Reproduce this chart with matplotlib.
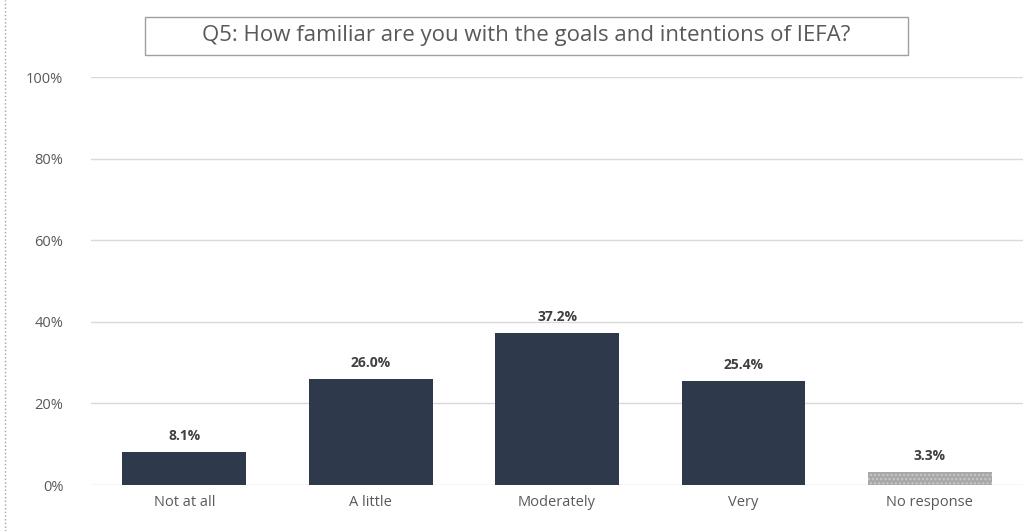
import matplotlib.pyplot as plt
import matplotlib.patches as mpatches
import matplotlib.lines as mlines
from matplotlib.ticker import FuncFormatter

# Datos
categorias = ["Not at all", "A little", "Moderately", "Very", "No response"]
valores = [8.1, 26.0, 37.2, 25.4, 3.3]
colores = ["#2e3a4b", "#2e3a4b", "#2e3a4b", "#2e3a4b", "#a8a8a8"]
titulo = "Q5: How familiar are you with the goals and intentions of IEFA?"

plt.rcParams['font.family'] = ['Open Sans', 'DejaVu Sans']

fig = plt.figure(figsize=(10.35, 5.31), dpi=100)
ax = fig.add_axes([0.088, 0.0866, 0.9005, 0.768])

x = range(len(categorias))
barras = ax.bar(x, valores, width=0.665, color=colores, zorder=3)
barras[-1].set_hatch("....")
barras[-1].set_edgecolor("#c8c8c8")
barras[-1].set_linewidth(0)

for b, v in zip(barras, valores):
    ax.text(b.get_x() + b.get_width() / 2, v + 2.2, f"{v:.1f}%",
            ha="center", va="bottom", fontsize=10, fontweight="bold", color="#404040")

ax.set_xlim(-0.5, len(categorias) - 0.5)
ax.set_ylim(0, 100)
ax.set_yticks([0, 20, 40, 60, 80, 100])
ax.yaxis.set_major_formatter(FuncFormatter(lambda v, p: f"{v:.0f}%"))
ax.set_xticks(list(x))
ax.set_xticklabels(categorias)
ax.tick_params(axis="both", length=0, labelsize=10.5, labelcolor="#595959")
ax.tick_params(axis="y", pad=20)
ax.tick_params(axis="x", pad=7)
ax.grid(axis="y", color="#d9d9d9", linewidth=1, zorder=0)
for s in ax.spines.values():
    s.set_visible(False)

# titulo con recuadro
fig.patches.append(mpatches.Rectangle((145 / 1035, 1 - 55 / 531), 763 / 1035, 38 / 531,
                                      transform=fig.transFigure, facecolor="white",
                                      edgecolor="#a0a0a0", linewidth=1))
fig.text(526 / 1035, 1 - 36 / 531, titulo, ha="center", va="center", fontsize=16, color="#595959")

# borde izquierdo punteado
fig.lines.append(mlines.Line2D([5 / 1035, 5 / 1035], [0, 1], transform=fig.transFigure,
                               color="#a0a0a0", linewidth=1, linestyle=":"))

fig.savefig("out.png", dpi=100)
